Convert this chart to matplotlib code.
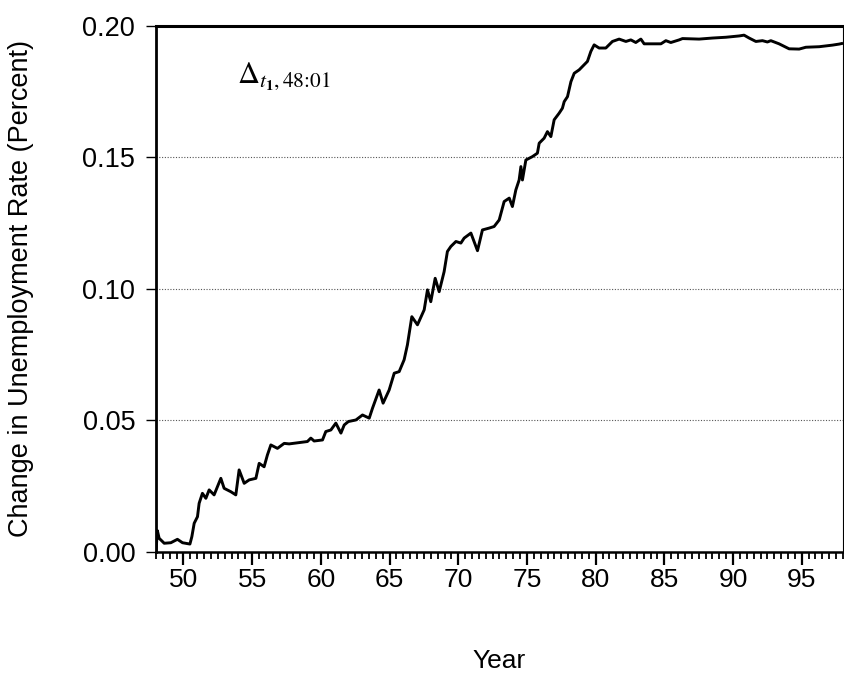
import matplotlib
matplotlib.use("Agg")
import matplotlib.pyplot as plt
from matplotlib.ticker import MultipleLocator

plt.rcParams['font.family'] = ['Liberation Sans', 'DejaVu Sans']
plt.rcParams['mathtext.fontset'] = 'stix'

# cumulative change
years = [48.0, 48.1, 48.23, 48.6, 49.08, 49.56, 49.93, 50.47, 50.61, 50.78, 51.02, 51.14,
         51.38, 51.63, 51.87, 52.23, 52.47, 52.72, 52.96, 53.45, 53.81, 54.05, 54.42,
         54.78, 55.27, 55.51, 55.87, 56.11, 56.36, 56.84, 57.33, 57.69, 58.42, 59.02,
         59.27, 59.51, 60.12, 60.36, 60.73, 61.09, 61.46, 61.7, 62.0, 62.55, 63.03,
         63.52, 63.76, 64.24, 64.53, 64.97, 65.34, 65.7, 66.06, 66.3, 66.62, 67.03,
         67.52, 67.76, 68.0, 68.32, 68.61, 68.97, 69.21, 69.46, 69.83, 70.19, 70.43,
         70.92, 71.4, 71.76, 72.25, 72.61, 72.98, 73.34, 73.71, 73.94, 74.19, 74.43,
         74.56, 74.67, 74.92, 75.4, 75.76, 75.89, 76.25, 76.49, 76.74, 76.98, 77.34,
         77.58, 77.71, 77.95, 78.2, 78.44, 78.8, 79.04, 79.4, 79.65, 79.89, 80.25,
         80.74, 81.22, 81.71, 82.2, 82.56, 82.92, 83.29, 83.53, 84.75, 85.11, 85.47,
         86.08, 86.32, 87.53, 88.5, 89.48, 90.45, 90.8, 91.17, 91.66, 92.14, 92.5,
         92.75, 93.35, 94.08, 94.81, 95.3, 96.27, 97.23, 97.72, 97.9]
change = [0.0, 0.008, 0.0051, 0.0032, 0.0034, 0.0047, 0.0034, 0.0029, 0.0057, 0.0108,
          0.0133, 0.0184, 0.0222, 0.0203, 0.0235, 0.0216, 0.0247, 0.0279, 0.0241, 0.0228,
          0.0216, 0.0311, 0.026, 0.0273, 0.0279, 0.0336, 0.0323, 0.0368, 0.0406, 0.0393,
          0.0412, 0.041, 0.0415, 0.0419, 0.0432, 0.0421, 0.0425, 0.0457, 0.0463, 0.0489,
          0.0451, 0.0482, 0.0495, 0.0501, 0.052, 0.0508, 0.0546, 0.0615, 0.0565, 0.0615,
          0.0679, 0.0685, 0.073, 0.0787, 0.0894, 0.0863, 0.092, 0.0996, 0.0951, 0.104,
          0.0989, 0.1065, 0.1142, 0.1161, 0.118, 0.1174, 0.1193, 0.1212, 0.1145, 0.1224,
          0.1231, 0.1237, 0.1262, 0.1332, 0.1345, 0.1313, 0.1376, 0.1414, 0.1465, 0.1414,
          0.149, 0.1503, 0.1516, 0.1554, 0.1573, 0.1598, 0.1579, 0.1643, 0.1668, 0.1687,
          0.1712, 0.1731, 0.1788, 0.182, 0.1833, 0.1846, 0.1865, 0.1903, 0.1928, 0.1916,
          0.1916, 0.1941, 0.195, 0.1941, 0.1947, 0.1937, 0.195, 0.1932, 0.1932, 0.1944,
          0.1937, 0.1947, 0.1952, 0.195, 0.1954, 0.1957, 0.1962, 0.1965, 0.1954, 0.1941,
          0.1944, 0.1939, 0.1944, 0.1932, 0.1913, 0.1912, 0.1919, 0.1921, 0.1927, 0.1931,
          0.1933]

ytick_vals = [0.00, 0.05, 0.10, 0.15, 0.20]
xtick_vals = [50, 55, 60, 65, 70, 75, 80, 85, 90, 95]

fig = plt.figure(figsize=(8.45, 6.74), dpi=100)
ax = fig.add_axes([0.1846, 0.1815, 0.813, 0.78])

ax.plot(years, change, color='black', lw=2.1)

ax.set_xlim(48, 98)
ax.set_ylim(0, 0.20)
ax.set_xticks(xtick_vals)
ax.set_xticklabels([str(v) for v in xtick_vals])
ax.xaxis.set_minor_locator(MultipleLocator(0.5))
ax.set_yticks(ytick_vals)
ax.set_yticklabels([f"{v:.2f}" for v in ytick_vals])

for y in ytick_vals[1:-1]:
    ax.axhline(y, color='#555555', lw=0.8, ls=(0, (1, 1.5)), zorder=0)

ax.tick_params(axis='x', which='major', direction='out', length=9, width=1.6,
               labelsize=19, pad=3)
ax.tick_params(axis='x', which='minor', direction='out', length=5, width=1.3)
ax.tick_params(axis='y', direction='out', length=7, width=1.0, labelsize=19.5, pad=8)

ax.spines['left'].set_linewidth(2.0)
ax.spines['bottom'].set_linewidth(1.8)
ax.spines['top'].set_linewidth(2.2)
ax.spines['right'].set_linewidth(0.8)

ax.set_ylabel("Change in Unemployment Rate (Percent)", fontsize=19.5, va='center')
ax.yaxis.set_label_coords(-0.197, 0.5)
ax.set_xlabel("Year", fontsize=19, va='center')
ax.xaxis.set_label_coords(0.5, -0.208)

ax.text(53.9, 0.181, r'$\Delta_{t_{\mathbf{1}},\text{48:01}}$', fontsize=22,
        va='center', ha='left')

fig.savefig("out.png", dpi=100)
